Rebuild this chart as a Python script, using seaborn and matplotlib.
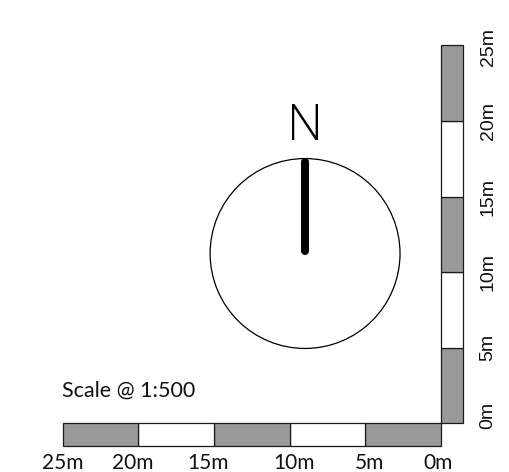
import matplotlib
matplotlib.use("Agg")
import matplotlib.pyplot as plt
from matplotlib.patches import Circle
import seaborn as sns
import pandas as pd

# ---- data ----
seg_start_m = [0, 5, 10, 15, 20]
seg_length_m = 5
seg_colors = ["#999999", "#ffffff", "#999999", "#ffffff", "#999999"]
tick_m = [0, 5, 10, 15, 20, 25]
tick_labels = ["0m", "5m", "10m", "15m", "20m", "25m"]
h_label_nudge = [-0.18, 0.26, 0.30, -0.36, -0.34, 0.01]
v_label_nudge = [0.5, 0.0, 0.0, 0.0, 0.0, -0.1]
scale_text = "Scale @ 1:500"
north_text = "N"

sns.set_theme(style="white")
plt.rcParams["font.family"] = ["Lato", "DejaVu Sans"]

W, H, DPI = 509, 472, 100
PX_PER_M = 15.12
ox, oy = 440.7, 423.3  # pixel of the 0m corner
bar_w = 1.5

fig = plt.figure(figsize=(W / DPI, H / DPI), dpi=DPI)
ax = fig.add_axes([0, 0, 1, 1])

# horizontal scale bar (runs leftwards from 0m)
for s, c in zip(seg_start_m, seg_colors):
    ax.bar(x=-(s + seg_length_m / 2), height=bar_w, bottom=-bar_w, width=seg_length_m,
           color=c, edgecolor="#1a1a1a", linewidth=0.9)
# vertical scale bar (runs upwards from 0m)
for s, c in zip(seg_start_m, seg_colors):
    ax.bar(x=bar_w / 2, height=seg_length_m, bottom=s, width=bar_w,
           color=c, edgecolor="#1a1a1a", linewidth=0.9)

for m, lab, nh, nv in zip(tick_m, tick_labels, h_label_nudge, v_label_nudge):
    ax.text(-m + nh, -3.05, lab, ha="center", va="baseline", fontsize=15,
            color="#111111")
    ax.text(3.13, m + nv, lab, ha="center", va="center", rotation=90,
            fontsize=14, color="#111111", family=["Liberation Sans", "DejaVu Sans"])

ax.text(-25.05, 1.74, scale_text, ha="left", va="baseline", fontsize=15.5,
        color="#111111")

# north arrow
cx, cy, r = -8.97, 11.23, 6.28
ax.add_patch(Circle((cx, cy), r, fill=False, edgecolor="black", linewidth=0.9))
line_df = pd.DataFrame({"x": [cx, cx], "y": [11.4, 17.27]})
sns.lineplot(data=line_df, x="x", y="y", ax=ax, color="black", linewidth=5.8,
             solid_capstyle="round", estimator=None, sort=False)
ax.text(cx, 18.74, north_text, ha="center", va="baseline", fontsize=36,
        fontweight="light", color="black", family=["Open Sans", "DejaVu Sans"])

ax.axis("off")
ax.set_xlim(-ox / PX_PER_M, (W - ox) / PX_PER_M)
ax.set_ylim(-(H - oy) / PX_PER_M, oy / PX_PER_M)

fig.savefig("out.png", dpi=DPI)
